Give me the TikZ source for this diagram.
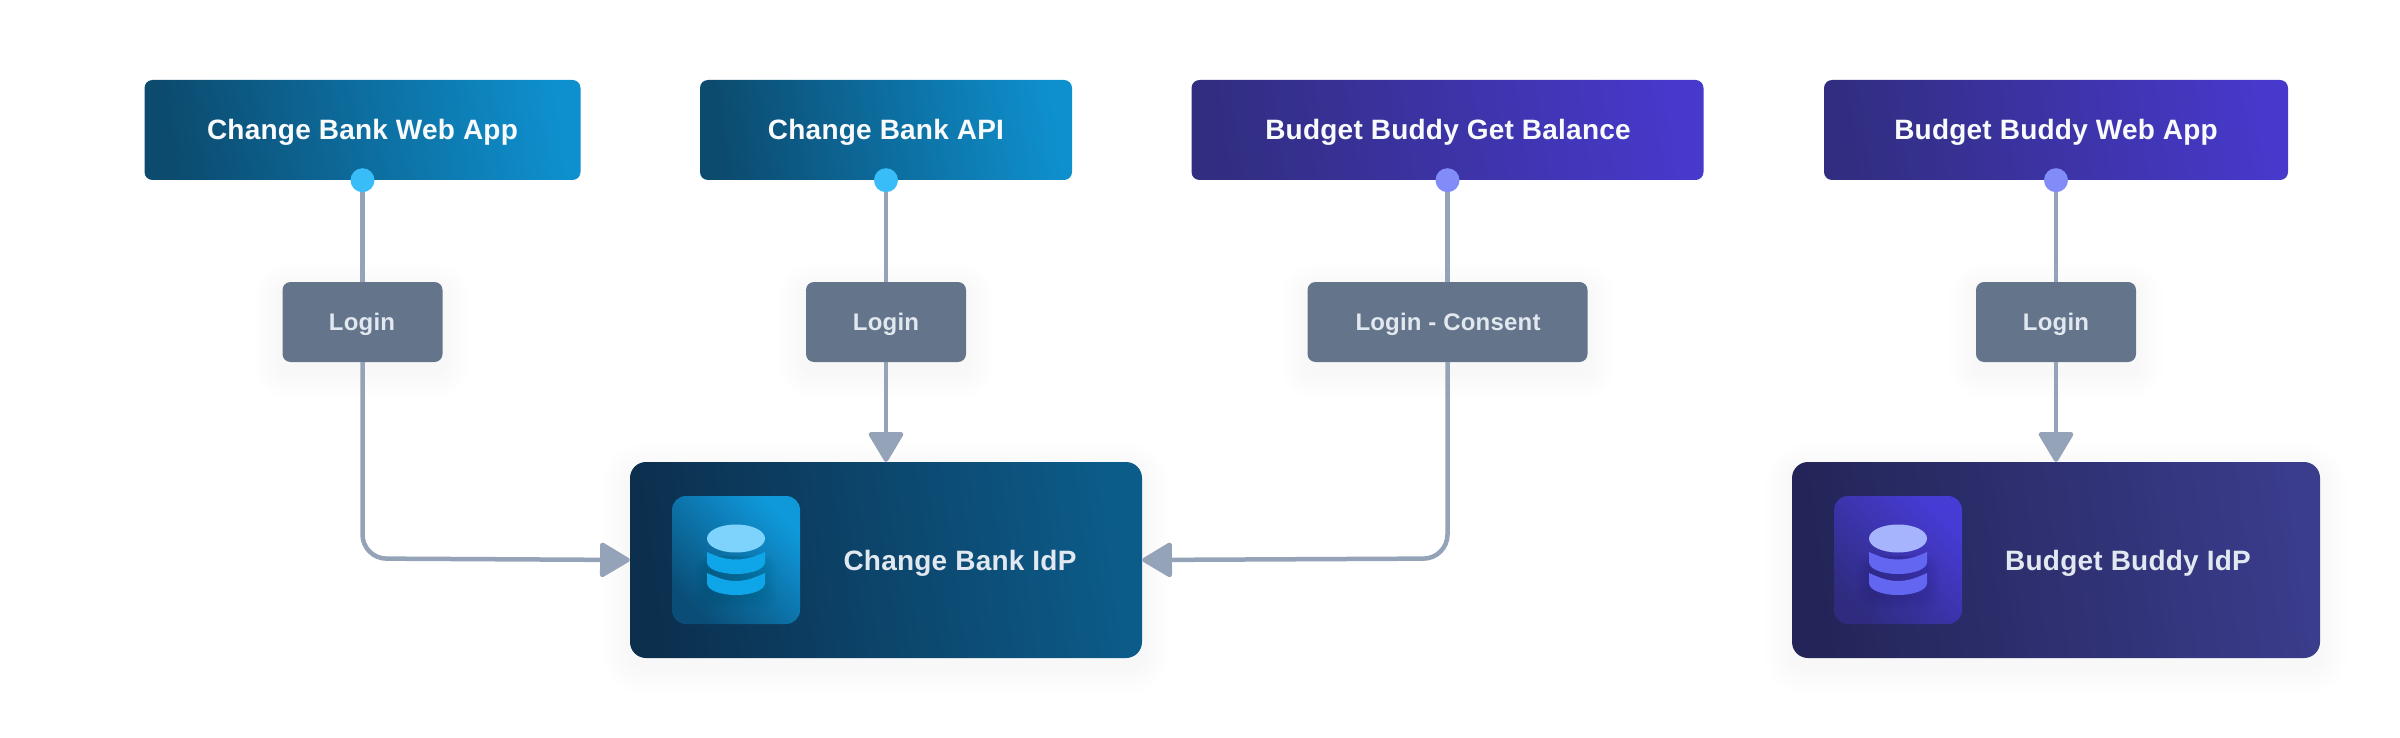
\documentclass[tikz,border=0pt]{standalone}
\usepackage{fontspec}
\usetikzlibrary{arrows.meta,calc}
\newfontfamily\labelfont[LetterSpace=0.8]{Liberation Sans}
\definecolor{skyA}{HTML}{0C4A6E}\definecolor{skyB}{HTML}{0E90CE}
\definecolor{indA}{HTML}{312E81}\definecolor{indB}{HTML}{4739CB}
\definecolor{idpA}{HTML}{0C2F4E}\definecolor{idpB}{HTML}{0C5C8A}
\definecolor{idqA}{HTML}{232558}\definecolor{idqB}{HTML}{3A3C8C}
\definecolor{insA}{HTML}{0A4E78}\definecolor{insB}{HTML}{0F99DB}
\definecolor{inqA}{HTML}{2F2C80}\definecolor{inqB}{HTML}{473BD6}
\definecolor{wire}{HTML}{94A3B8}\definecolor{tag}{HTML}{64748B}
\definecolor{pale}{HTML}{E2E8F0}\definecolor{bright}{HTML}{F8FAFC}
\definecolor{dotsky}{HTML}{38BDF8}\definecolor{dotind}{HTML}{818CF8}
\definecolor{cylAt}{HTML}{7DD3FC}\definecolor{cylAb}{HTML}{0EA5E9}
\definecolor{cylBt}{HTML}{A5B4FC}\definecolor{cylBb}{HTML}{6366F1}
\tikzset{
  box/.style={rectangle,rounded corners=8pt,minimum height=100pt,inner sep=0pt,text=bright},
  skybox/.style={box,left color=skyA,right color=skyB,shading angle=98},
  indbox/.style={box,left color=indA,right color=indB,shading angle=98},
  tagbox/.style={rectangle,rounded corners=8pt,fill=tag,minimum height=80pt,inner sep=0pt},
  idpbox/.style={rectangle,rounded corners=16pt,minimum height=196pt,minimum width=512pt,inner sep=0pt},
  iconbox/.style={rectangle,rounded corners=14pt,minimum height=128pt,minimum width=128pt,inner sep=0pt},
  dotnode/.style={circle,minimum size=24pt,inner sep=0pt},
  headtext/.style={anchor=base,inner sep=0pt,text=bright,font=\labelfont\bfseries\fontsize{28}{28}\selectfont},
  idptext/.style={headtext,text=pale},
  tagtext/.style={anchor=base,inner sep=0pt,text=pale,font=\labelfont\bfseries\fontsize{24}{24}\selectfont},
  wireline/.style={draw=wire,line width=4.5pt},
  tipped/.style={wireline,-{Triangle[length=32pt,width=37pt,round]}}
}
\newcommand{\softshadow}[5]{%
  \foreach \k in {1,...,7}{
    \fill[black,opacity=0.0045,rounded corners=#5pt+\k*4pt]
      (#1-\k*4,#2+9-\k*4) rectangle (#3+\k*4,#4+9+\k*4);
  }}
\newcommand{\cylinder}[4]{% cx, top, band colour, shade colour
  \foreach \k in {1,...,7}{
    \fill[black,opacity=0.006,rounded corners=14pt]
      (#1-29-\k*1.8,556) rectangle (#1+29+\k*1.8,596+\k*2);
  }
  \fill[#3] (#1-29,538.5) .. controls (#1-29,530.5) and (#1-16,524.5) .. (#1,524.5)
    .. controls (#1+16,524.5) and (#1+29,530.5) .. (#1+29,538.5)
    .. controls (#1+29,546.5) and (#1+16,552.5) .. (#1,552.5)
    .. controls (#1-16,552.5) and (#1-29,546.5) .. (#1-29,538.5) -- cycle;
  \fill[#4] (#1-29,552) .. controls (#1-18,557) and (#1-10,559.5) .. (#1,559.5)
    .. controls (#1+10,559.5) and (#1+18,557) .. (#1+29,552)
    -- (#1+29,562) .. controls (#1+29,569) and (#1+16,574) .. (#1,574)
    .. controls (#1-16,574) and (#1-29,569) .. (#1-29,562) -- cycle;
  \fill[#4] (#1-29,573) .. controls (#1-18,578) and (#1-10,581) .. (#1,581)
    .. controls (#1+10,581) and (#1+18,578) .. (#1+29,573)
    -- (#1+29,583) .. controls (#1+29,590) and (#1+16,595) .. (#1,595)
    .. controls (#1-16,595) and (#1-29,590) .. (#1-29,583) -- cycle;
}
\begin{document}
\begin{tikzpicture}[x=1pt,y=-1pt]
\useasboundingbox (0,0) rectangle (2400,738);
% soft shadows
\softshadow{282}{282}{442}{362}{8}
\softshadow{806}{282}{966}{362}{8}
\softshadow{1308}{282}{1588}{362}{8}
\softshadow{1976}{282}{2136}{362}{8}
\softshadow{630}{462}{1142}{658}{16}
\softshadow{1792}{462}{2320}{658}{16}
% main boxes
\node[skybox,minimum width=436pt] (webapp) at (362.5,130) {};
\node[skybox,minimum width=372pt] (api) at (886,130) {};
\node[indbox,minimum width=512pt] (balance) at (1447.5,130) {};
\node[indbox,minimum width=464pt] (bbweb) at (2056,130) {};
\node[tagbox,minimum width=160pt] (t1) at (362.5,322) {};
\node[tagbox,minimum width=160pt] (t2) at (886,322) {};
\node[tagbox,minimum width=280pt] (t3) at (1447.5,322) {};
\node[tagbox,minimum width=160pt] (t4) at (2056,322) {};
\node[idpbox,left color=idpA,right color=idpB,shading angle=98] (idp1) at (886,560) {};
\node[idpbox,minimum width=528pt,left color=idqA,right color=idqB,shading angle=98] (idp2) at (2056,560) {};
\node[iconbox,left color=insA,right color=insB,shading angle=135] (sq1) at (736,560) {};
\node[iconbox,left color=inqA,right color=inqB,shading angle=135] (sq2) at (1898,560) {};
% connector coordinates
\coordinate (c1) at (362.5,558.5);
\coordinate (c3) at (1447.5,558.5);
% connectors
\draw[wireline] (webapp.south) -- (t1.north);
\draw[wireline] (api.south) -- (t2.north);
\draw[wireline] (balance.south) -- (t3.north);
\draw[wireline] (bbweb.south) -- (t4.north);
\draw[tipped,rounded corners=24pt] (t1.south) -- (c1) -- (idp1.west);
\draw[tipped] (t2.south) -- (idp1.north);
\draw[tipped,rounded corners=24pt] (t3.south) -- (c3) -- (idp1.east);
\draw[tipped] (t4.south) -- (idp2.north);
% dots
\node[dotnode,fill=dotsky] (d1) at (webapp.south) {};
\node[dotnode,fill=dotsky] (d2) at (api.south) {};
\node[dotnode,fill=dotind] (d3) at (balance.south) {};
\node[dotnode,fill=dotind] (d4) at (bbweb.south) {};
% cylinders
\cylinder{736}{524}{cylAt}{cylAb}
\cylinder{1898}{524}{cylBt}{cylBb}
% labels
\node[headtext] (l1) at (362.5,139.3) {Change Bank Web App};
\node[headtext] (l2) at (886,139.3) {Change Bank API};
\node[headtext] (l3) at (1448,139.3) {Budget Buddy Get Balance};
\node[headtext] (l4) at (2056,139.3) {Budget Buddy Web App};
\node[tagtext] (l5) at (362,330) {Login};
\node[tagtext] (l6) at (886,330) {Login};
\node[tagtext] (l7) at (1448,330) {Login - Consent};
\node[tagtext] (l8) at (2056,330) {Login};
\node[idptext] (l9) at (960,570) {Change Bank IdP};
\node[idptext] (l10) at (2128,570) {Budget Buddy IdP};
\end{tikzpicture}
\end{document}
